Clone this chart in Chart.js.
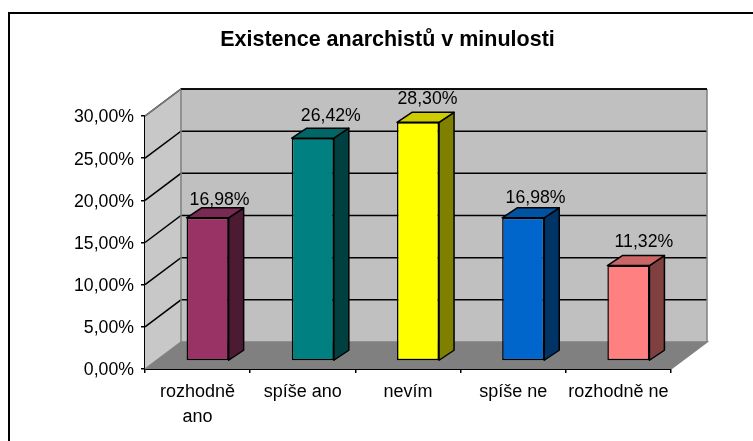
<!DOCTYPE html>
<html><head><meta charset="utf-8">
<style>html,body{margin:0;padding:0;background:#fff}#w{position:relative;width:753px;height:441px;overflow:hidden}</style>
<script src="https://cdn.jsdelivr.net/npm/chart.js@4"></script></head>
<body><div id="w"><canvas id="c" width="753" height="441"></canvas></div>
<script>
const categories=[["rozhodně","ano"],"spíše ano","nevím","spíše ne","rozhodně ne"];
const values=[16.98,26.42,28.30,16.98,11.32];
const valueLabels=["16,98%","26,42%","28,30%","16,98%","11,32%"];
const frontColors=["#993366","#008080","#FFFF00","#0066CC","#FF8080"];
const topColors=["#7A2952","#006666","#CCCC00","#0052A3","#CC6666"];
const sideColors=["#4D1A33","#004040","#808000","#003366","#804040"];
const titleText="Existence anarchistů v minulosti";
const labelDx=[12,18,9.5,12.4,15.5];
const labelDy=[12.7,17,18.7,15,19];
const FONT="'Liberation Sans',Arial,sans-serif";
const DEPTH={x:36,y:27}, BAR_OFF={x:10,y:8}, BAR_D={x:15,y:10};
function poly(ctx,pts,fill,stroke,lw){ctx.beginPath();pts.forEach((p,i)=>i?ctx.lineTo(p[0],p[1]):ctx.moveTo(p[0],p[1]));ctx.closePath();
 if(fill){ctx.fillStyle=fill;ctx.fill();} if(stroke){ctx.strokeStyle=stroke;ctx.lineWidth=lw;ctx.lineJoin='round';ctx.stroke();}}
const threeD={id:'threeD',
 afterLayout(ch){ch.titleBlock.left=104;},
 beforeDraw(ch){const c=ch.ctx;c.save();c.strokeStyle='#000';c.lineWidth=2;c.strokeRect(9,13,800,500);c.restore();},
 beforeDatasetsDraw(ch){const c=ch.ctx,a=ch.chartArea,y=ch.scales.y,D=DEPTH;c.save();
  const L=a.left,R=a.right,T=a.top,B=a.bottom;
  poly(c,[[L,B],[L,T],[L+D.x,T-D.y],[L+D.x,B-D.y]],'#C8C8C8');
  poly(c,[[L+D.x,T-D.y],[R+D.x,T-D.y],[R+D.x,B-D.y],[L+D.x,B-D.y]],'#C0C0C0');
  poly(c,[[L,B],[R,B],[R+D.x,B-D.y],[L+D.x,B-D.y]],'#808080');
  y.ticks.forEach(t=>{const py=y.getPixelForValue(t.value);if(t.value===0)return;
   c.beginPath();c.moveTo(L,py);c.lineTo(L+D.x,py-D.y);c.lineTo(R+D.x,py-D.y);c.strokeStyle='#000';c.lineWidth=1.5;c.stroke();});
  c.strokeStyle='#808080';c.lineWidth=1.5;c.lineJoin='miter';
  c.beginPath();c.moveTo(L,T);c.lineTo(L+D.x,T-D.y);c.stroke();
  c.beginPath();c.moveTo(L+D.x,T-D.y);c.lineTo(L+D.x,B-D.y);c.lineTo(L,B);c.moveTo(L+D.x,B-D.y);c.lineTo(R+D.x,B-D.y);c.lineTo(R,B);c.moveTo(R+D.x,B-D.y);c.lineTo(R+D.x,T-D.y);c.stroke();
  c.strokeStyle='#000';c.beginPath();c.moveTo(L+D.x,T-D.y);c.lineTo(R+D.x,T-D.y);c.stroke();
  c.restore();},
 beforeDatasetDraw(ch,args){const c=ch.ctx;c.save();c.translate(BAR_OFF.x,-BAR_OFF.y);
  args.meta.data.forEach((b,i)=>{const p=b.getProps(['x','y','base','width'],true),l=p.x-p.width/2,r=p.x+p.width/2,t=p.y,bs=p.base,d=BAR_D;
   poly(c,[[r,t],[r+d.x,t-d.y],[r+d.x,bs-d.y],[r,bs]],sideColors[i],'#000',1.5);
   poly(c,[[l,t],[l+d.x,t-d.y],[r+d.x,t-d.y],[r,t]],topColors[i],'#000',1.5);});},
 afterDatasetDraw(ch,args){const c=ch.ctx;c.restore();
  c.save();c.font='17.7px '+FONT;c.fillStyle='#000';c.textAlign='center';c.textBaseline='alphabetic';
  args.meta.data.forEach((b,i)=>{const p=b.getProps(['x','y'],true);c.fillText(valueLabels[i],p.x+BAR_OFF.x+labelDx[i],p.y-BAR_OFF.y-labelDy[i]);});c.restore();}
};
Chart.defaults.animation=false;
new Chart(document.getElementById('c'),{type:'bar',plugins:[threeD],
 data:{labels:categories,datasets:[{data:values,backgroundColor:frontColors,borderColor:'#000',borderWidth:1.5,borderSkipped:false,barPercentage:0.4,categoryPercentage:1}]},
 options:{responsive:false,animation:false,
  layout:{padding:{left:0,right:82,top:0,bottom:0}},
  plugins:{legend:{display:false},tooltip:{enabled:false},
   title:{display:true,text:titleText,color:'#000',font:{family:FONT,size:21.5,weight:'bold',lineHeight:1.2},padding:{top:27,bottom:63.2}}},
  scales:{
   x:{afterFit(s){s.height=72;},grid:{display:true,drawOnChartArea:false,tickLength:4,color:'#000',lineWidth:1.5,offset:true},border:{color:'#000',width:2},
      ticks:{color:'#000',font:{family:FONT,size:18,lineHeight:1.4},maxRotation:0,minRotation:0,autoSkip:false,padding:6}},
   y:{min:0,max:30,afterFit(s){s.width=145;},grid:{display:true,drawOnChartArea:false,tickLength:4,color:'#000',lineWidth:1.5},border:{color:'#000',width:2},
      ticks:{stepSize:5,color:'#000',font:{family:FONT,size:17.7},padding:7,labelOffset:1.5,callback:v=>v.toFixed(2).replace('.',',')+'%'}}
  }}});
</script></body></html>
